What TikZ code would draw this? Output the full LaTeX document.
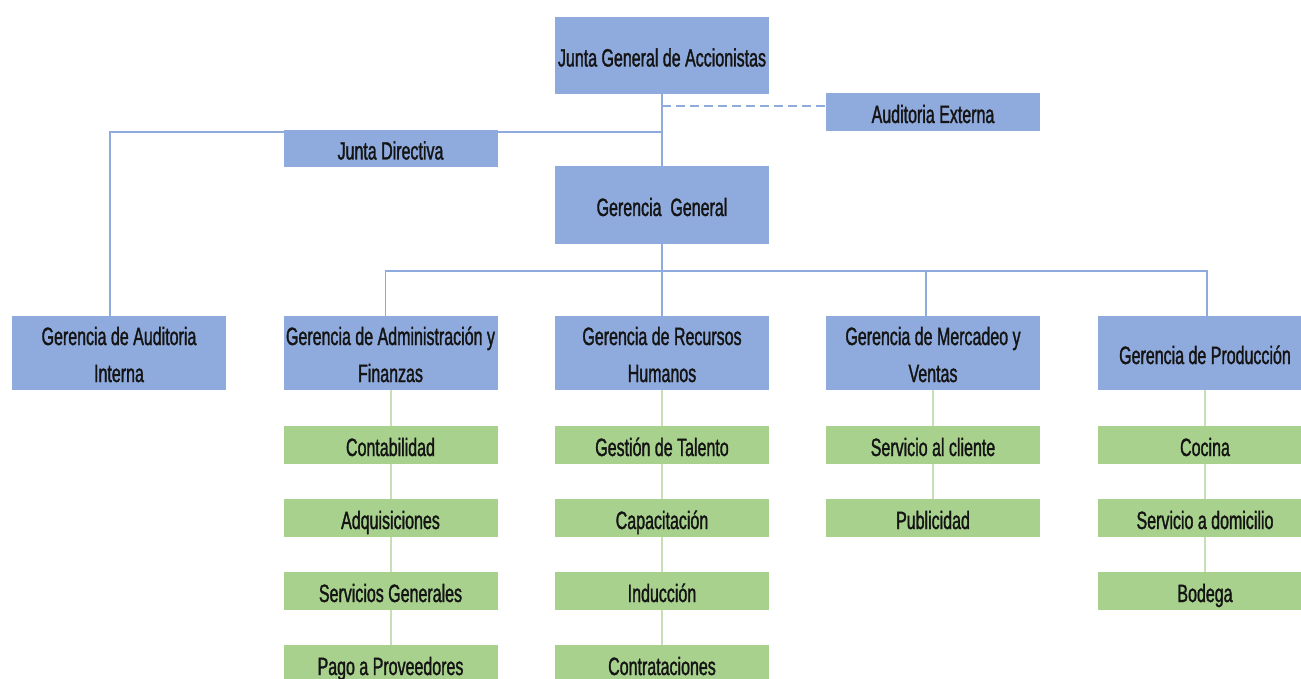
\documentclass[tikz,border=0pt]{standalone}
\usepackage{fontspec}
\setmainfont{Liberation Sans}[FakeStretch=0.64, FakeBold=1.3]
\definecolor{bluefill}{HTML}{8FAADC}
\definecolor{greenfill}{HTML}{A9D18E}
\definecolor{blueline}{HTML}{8FAADC}
\definecolor{greenline}{HTML}{C5E0B4}
\definecolor{txt}{HTML}{141414}
\tikzset{
  base/.style={inner sep=0pt, text=txt, font=\fontsize{25}{37}\selectfont, align=center, minimum width=214pt},
  one/.style={text height=26pt, text depth=4pt},
  two/.style={text height=63pt, text depth=5pt},
  bigbox/.style={base, fill=bluefill, minimum height=76pt},
  bluebar/.style={base, one, fill=bluefill, minimum height=38pt},
  greenbox/.style={base, one, fill=greenfill, minimum height=38pt},
  bline/.style={draw=blueline, line width=1.6pt},
  gline/.style={draw=greenline, line width=2pt},
}
\begin{document}
\begin{tikzpicture}[x=1pt,y=-1pt]
\useasboundingbox (0,0) rectangle (1301,679);
% top level
\node[bigbox, one, minimum height=77pt] (jga) at (662,55.5) {Junta General de Accionistas};
\node[bluebar] (ae) at (933,112) {Auditoria Externa};
\node[bluebar, minimum height=37pt] (jd) at (390.5,148.5) {Junta Directiva};
\node[bigbox, one, minimum height=78pt] (gg) at (662,205) {Gerencia\ \ General};
% managers
\node[bigbox, two, minimum height=74pt] (gai) at (119,353) {Gerencia de Auditoria\\Interna};
\node[bigbox, two, minimum height=74pt] (gaf) at (390.5,353) {Gerencia de Administración y\\Finanzas};
\node[bigbox, two, minimum height=74pt] (grh) at (662,353) {Gerencia de Recursos\\Humanos};
\node[bigbox, two, minimum height=74pt] (gmv) at (933,353) {Gerencia de Mercadeo y\\Ventas};
\node[bigbox, one, minimum height=74pt] (gp) at (1205,353) {Gerencia de Producción};
% green units
\node[greenbox] (a1) at (390.5,445) {Contabilidad};
\node[greenbox] (a2) at (390.5,518) {Adquisiciones};
\node[greenbox] (a3) at (390.5,591) {Servicios Generales};
\node[greenbox] (a4) at (390.5,664) {Pago a Proveedores};
\node[greenbox] (r1) at (662,445) {Gestión de Talento};
\node[greenbox] (r2) at (662,518) {Capacitación};
\node[greenbox] (r3) at (662,591) {Inducción};
\node[greenbox] (r4) at (662,664) {Contrataciones};
\node[greenbox] (m1) at (933,445) {Servicio al cliente};
\node[greenbox] (m2) at (933,518) {Publicidad};
\node[greenbox] (p1) at (1205,445) {Cocina};
\node[greenbox] (p2) at (1205,518) {Servicio a domicilio};
\node[greenbox] (p3) at (1205,591) {Bodega};
% helper coordinates
\coordinate (dash) at (662,106);
\coordinate (jdl) at (110,132);
\coordinate (bus) at (0,271);
% connectors
\draw[bline] (jga.south) -- (gg.north);
\draw[bline, dash pattern=on 9pt off 5pt] (dash) -- (dash -| ae.west);
\draw[bline] (gai.north -| jdl) -- (jdl) -- (jdl -| gg.north);
\draw[bline] (gg.south) -- (gg.south |- bus);
\draw[bline] ([xshift=-5pt]gaf.north) -- ([xshift=-5pt]gaf.north |- bus) -- ([xshift=2pt]gp.north |- bus) -- ([xshift=2pt]gp.north);
\draw[bline] (grh.north) -- (grh.north |- bus);
\draw[bline] ([xshift=-7pt]gmv.north) -- ([xshift=-7pt]gmv.north |- bus);
\draw[gline] (gaf.south) -- (a1.north) (a1.south) -- (a2.north) (a2.south) -- (a3.north) (a3.south) -- (a4.north);
\draw[gline] (grh.south) -- (r1.north) (r1.south) -- (r2.north) (r2.south) -- (r3.north) (r3.south) -- (r4.north);
\draw[gline] (gmv.south) -- (m1.north) (m1.south) -- (m2.north);
\draw[gline] (gp.south) -- (p1.north) (p1.south) -- (p2.north) (p2.south) -- (p3.north);
\end{tikzpicture}
\end{document}
